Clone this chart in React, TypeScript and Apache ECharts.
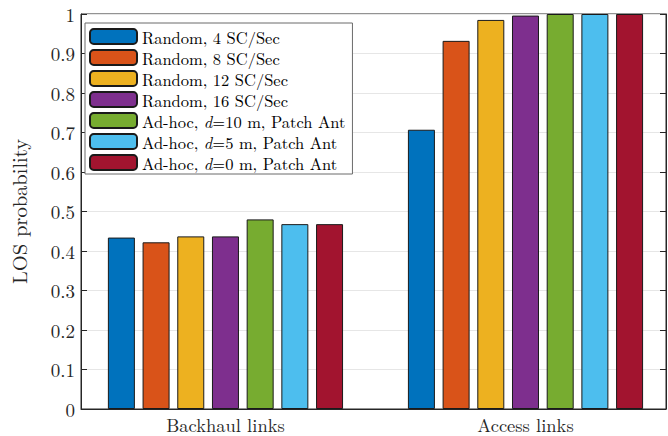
import React, { useEffect, useRef } from "react";
import * as echarts from "echarts";

const categories = ["Backhaul links", "Access links"];
const categoryPositions = [1, 2];
const seriesNames = [
  "Random, 4 SC/Sec",
  "Random, 8 SC/Sec",
  "Random, 12 SC/Sec",
  "Random, 16 SC/Sec",
  "Ad-hoc, d=10 m, Patch Ant",
  "Ad-hoc, d=5 m, Patch Ant",
  "Ad-hoc, d=0 m, Patch Ant",
];
const random4 = [0.434, 0.707];
const random8 = [0.422, 0.932];
const random12 = [0.437, 0.985];
const random16 = [0.437, 0.996];
const adhoc10 = [0.48, 1.0];
const adhoc5 = [0.468, 1.0];
const adhoc0 = [0.468, 1.0];
const colors = ["#0072BD", "#D95319", "#EDB120", "#7E2F8E", "#77AC30", "#4DBEEE", "#A2142F"];

const FONT = "'Latin Modern Roman', 'DejaVu Serif', 'Liberation Serif', serif";
const AX = "#262626";

export default function App() {
  const ref = useRef<HTMLDivElement>(null);
  useEffect(() => {
    if (!ref.current) return;
    const chart = echarts.init(ref.current, undefined, { renderer: "svg" });
    const allData = [random4, random8, random12, random16, adhoc10, adhoc5, adhoc0];
    const legendFormatter = (name: string) => {
      const m = name.match(/^(Ad-hoc, )d(=.*)$/);
      if (m) return `{a|${m[1]}}{i|d}{a|${m[2]}}`;
      return `{a|${name}}`;
    };
    const LFS = 16.5;
    chart.setOption({
      animation: false,
      textStyle: { fontFamily: FONT },
      grid: {
        left: 76,
        right: 2,
        top: 14,
        bottom: 27,
        show: true,
        borderColor: AX,
        borderWidth: 1,
        backgroundColor: "transparent",
      },
      legend: {
        left: 85,
        top: 23,
        orient: "vertical",
        itemWidth: 47,
        itemHeight: 15,
        itemGap: 4,
        padding: [5, 7, 3, 4],
        backgroundColor: "#ffffff",
        borderColor: "#6b6b6b",
        borderWidth: 1,
        borderRadius: 0,
        data: seriesNames,
        formatter: legendFormatter,
        textStyle: {
          fontFamily: FONT,
          fontSize: LFS,
          lineHeight: 17,
          color: "#000",
          rich: {
            a: { fontFamily: FONT, fontSize: LFS, lineHeight: 17, color: "#000" },
            i: { fontFamily: FONT, fontSize: LFS, lineHeight: 17, color: "#000", fontStyle: "italic" },
          },
        },
      },
      xAxis: {
        type: "value",
        min: 0.5185,
        max: 2.4683,
        axisLine: { show: true, lineStyle: { color: AX, width: 1 } },
        axisTick: {
          show: true,
          inside: true,
          length: 6,
          lineStyle: { color: AX },
          customValues: categoryPositions,
        },
        axisLabel: {
          fontFamily: FONT,
          fontSize: 18.5,
          lineHeight: 18,
          color: AX,
          margin: 6,
          customValues: categoryPositions,
          formatter: (v: number) => categories[Math.round(v) - 1] ?? "",
        },
        splitLine: { show: false },
      },
      yAxis: [
        {
          type: "value",
          min: 0,
          max: 1,
          interval: 0.1,
          name: "LOS probability",
          nameLocation: "middle",
          nameGap: 52,
          nameTextStyle: { fontFamily: FONT, fontSize: 20.5, color: AX },
          axisLine: { show: true, lineStyle: { color: AX, width: 1 } },
          axisTick: { show: true, inside: true, length: 6, lineStyle: { color: AX } },
          axisLabel: {
            fontFamily: FONT,
            fontSize: 19,
            color: AX,
            margin: 6,
            formatter: (v: number) => (v === 0 || v === 1 ? String(v) : v.toFixed(1)),
          },
          splitLine: { show: true, lineStyle: { color: "#e6e6e6", width: 1 } },
        },
        {
          type: "value",
          min: 0,
          max: 1,
          interval: 0.1,
          position: "right",
          axisLine: { show: true, lineStyle: { color: AX, width: 1 } },
          axisTick: { show: true, inside: true, length: 6, lineStyle: { color: AX } },
          axisLabel: { show: false },
          splitLine: { show: false },
        },
      ],
      series: allData.map((d, i) => ({
        name: seriesNames[i],
        type: "bar",
        data: d.map((v, k) => [categoryPositions[k], v]),
        barWidth: 27,
        barGap: "28.5%",
        itemStyle: { color: colors[i], borderColor: "#1a1a1a", borderWidth: 1 },
      })),
    });
    return () => chart.dispose();
  }, []);
  return <div ref={ref} style={{ position: "absolute", left: 0, top: 0, width: 668, height: 436 }} />;
}
